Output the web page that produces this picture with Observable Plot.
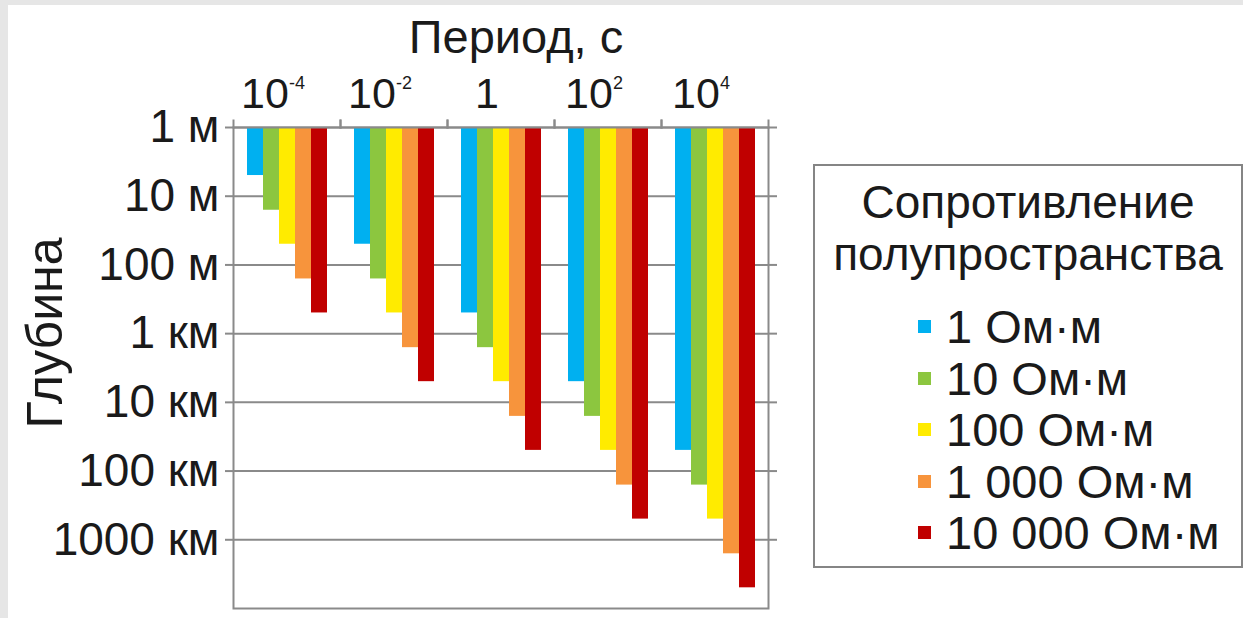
<!DOCTYPE html>
<html><head><meta charset="utf-8">
<script src="https://cdn.jsdelivr.net/npm/d3@7"></script>
<script src="https://cdn.jsdelivr.net/npm/@observablehq/plot@0.6"></script>
<style>
html,body{margin:0;padding:0;width:1243px;height:618px;overflow:hidden;background:#e6e6e6;font-family:"Liberation Sans",Arial,sans-serif;}
#panel{position:absolute;left:8px;top:5px;right:0;bottom:0;background:#fff;}
#chart{position:absolute;left:0;top:0;}
#legend{position:absolute;left:813px;top:164px;width:426px;height:400px;border:2px solid #858585;background:#fff;color:#1a1a1a;}
#legend .title{text-align:center;font-size:46px;line-height:52px;margin-top:10px;}
#legend .items{margin-top:21px;margin-left:103px;}
#legend .item{display:flex;align-items:center;height:51.5px;font-size:47px;}
#legend .sw{width:13px;height:13px;margin-right:15px;}
</style></head><body>
<div id="panel"></div>
<div id="chart"></div>
<div id="legend"></div>
<script>
// Categories: period (s) as base and exponent, and half-space resistivity
const periodBase = ["10", "10", "1", "10", "10"];
const periodExp = ["-4", "-2", "", "2", "4"];
const periods = periodBase.map((b, i) => b + periodExp[i]);
const resistivities = ["1 Ом·м", "10 Ом·м", "100 Ом·м", "1 000 Ом·м", "10 000 Ом·м"];
const colors = ["#00b0f0", "#8cc63f", "#ffeb00", "#f7943c", "#c00000"];

// Depth (metres) per period, one array per half-space resistivity
const depth_1 = [5, 50, 500, 5000, 50000];
const depth_10 = [16, 160, 1600, 16000, 160000];
const depth_100 = [50, 500, 5000, 50000, 500000];
const depth_1000 = [160, 1600, 16000, 160000, 1600000];
const depth_10000 = [500, 5000, 50000, 500000, 5000000];

// Depth axis ticks and labels
const yTicks = [1, 10, 100, 1000, 10000, 100000, 1000000];
const yTickLabels = ["1 м", "10 м", "100 м", "1 км", "10 км", "100 км", "1000 км"];
const yDomain = [1, 10000000];

const xTitle = "Период, с";
const yTitle = "Глубина";
const legendTitle = ["Сопротивление", "полупространства"];

const series = [depth_1, depth_10, depth_100, depth_1000, depth_10000];
const data = [];
resistivities.forEach((r, j) => series[j].forEach((v, i) => data.push({period: periods[i], rho: r, depth: v})));

const grid = "#8a8a8a";
const plot = Plot.plot({
  width: 800, height: 618,
  marginLeft: 231, marginRight: 30, marginTop: 127, marginBottom: 10,
  style: {fontFamily: "'Liberation Sans', Arial, sans-serif", fontSize: "46px", color: "#1a1a1a", background: "transparent", overflow: "visible"},
  fx: {domain: periods, padding: 0},
  x: {domain: resistivities, paddingInner: 0, paddingOuter: 0.83, axis: null},
  y: {type: "log", domain: yDomain, reverse: true},
  color: {domain: resistivities, range: colors},
  marks: [
    Plot.ruleY(yTicks, {stroke: grid, strokeWidth: 2}),
    Plot.barY(data, {fx: "period", x: "rho", y1: 1, y2: "depth", fill: "rho", inset: 0}),
    Plot.frame({facet: "super", stroke: grid, strokeWidth: 2}),
    Plot.axisY({anchor: "left", ticks: yTicks, tickFormat: d => yTickLabels[yTicks.indexOf(d)],
      tickSize: 8, tickPadding: 6, stroke: grid, strokeWidth: 2, label: null}),
    Plot.axisY({anchor: "right", ticks: yTicks, tickFormat: () => "", tickSize: 8, stroke: grid, strokeWidth: 2, label: null}),
    Plot.axisFx({anchor: "top", tickSize: 0, tickPadding: 20, dx: -14, label: null, fontSize: 43}),
    Plot.frame({anchor: "left", insetTop: -7, insetBottom: 481, stroke: grid, strokeWidth: 2}),
    Plot.frame({anchor: "right", insetTop: -7, insetBottom: 481, stroke: grid, strokeWidth: 2}),
    Plot.text([xTitle], {facet: "super", frameAnchor: "top", textAnchor: "middle", lineAnchor: "top", dx: 15, dy: -108, fontSize: 47}),
    Plot.text([yTitle], {facet: "super", frameAnchor: "left", textAnchor: "middle", lineAnchor: "middle", rotate: -90, dx: -188, dy: -35, fontSize: 50})
  ]
});
document.getElementById("chart").appendChild(plot);

// Render the period exponents as superscripts
plot.querySelectorAll('g[aria-label="fx-axis tick label"] text').forEach(t => {
  const i = periods.indexOf(t.textContent);
  if (i < 0 || !periodExp[i]) return;
  t.textContent = periodBase[i];
  const s = document.createElementNS("http://www.w3.org/2000/svg", "tspan");
  s.setAttribute("font-size", "18");
  s.setAttribute("dy", "-19");
  s.textContent = periodExp[i];
  t.appendChild(s);
});

// Legend
const leg = document.getElementById("legend");
leg.innerHTML = `<div class="title">${legendTitle.join("<br>")}</div><div class="items">` +
  resistivities.map((r, i) => `<div class="item"><span class="sw" style="background:${colors[i]}"></span>${r}</div>`).join("") + `</div>`;
</script>
</body></html>
